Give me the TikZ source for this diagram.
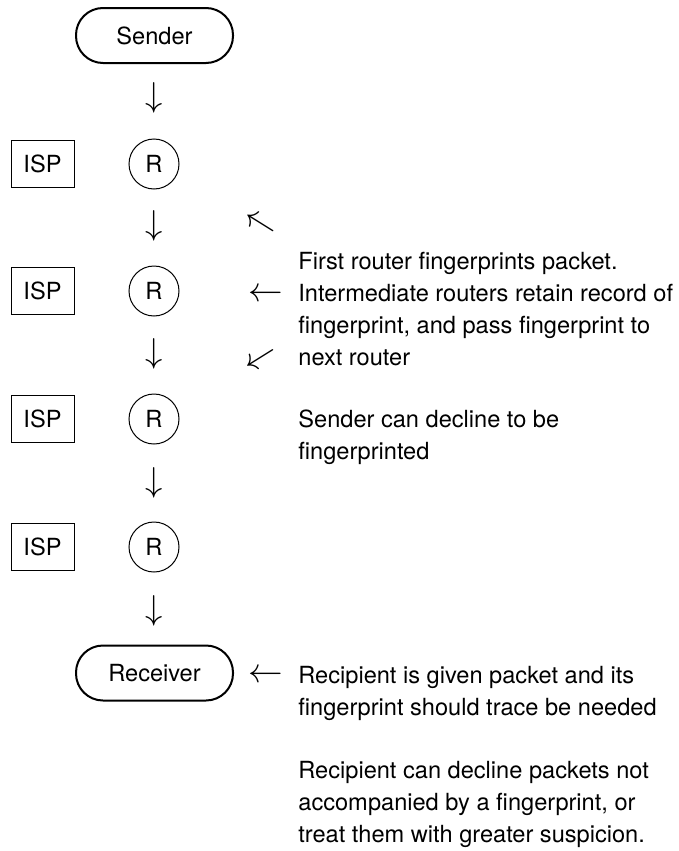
\documentclass[tikz,border=0pt]{standalone}
\usepackage{fontspec}
\setmainfont{TeX Gyre Heros}

\begin{document}
\begin{tikzpicture}[x=0.5pt,y=-0.5pt,
  font=\fontsize{11.8}{16}\selectfont,
  endpoint/.style={draw, rectangle, rounded corners=13.5pt, line width=1pt,
    minimum width=78.5pt, minimum height=27.5pt},
  ispbox/.style={draw, rectangle, line width=0.5pt, minimum width=31.5pt, minimum height=23.5pt},
  router/.style={draw, circle, line width=0.5pt, minimum size=25pt, inner sep=0pt},
  glyph/.style={font=\fontsize{16}{18}\selectfont, inner sep=0pt},
  slant/.style={font=\fontsize{17.28}{19}\selectfont, inner sep=0pt},
  note/.style={anchor=base west, align=left, inner sep=0pt}]
\useasboundingbox (0,0) rectangle (679,851);

\node[endpoint] (sender) at (154.5,35.5) {Sender};
\node[glyph] (d1) at (154,98) {$\downarrow$};

\node[ispbox] (isp1) at (42.5,164) {ISP};
\node[router] (r1) at (154,164) {R};
\node[glyph] (d2) at (154,226) {$\downarrow$};

\node[ispbox] (isp2) at (42.5,291) {ISP};
\node[router] (r2) at (154,291) {R};
\node[glyph] (d3) at (154,354) {$\downarrow$};

\node[ispbox] (isp3) at (42.5,419) {ISP};
\node[router] (r3) at (154,419) {R};
\node[glyph] (d4) at (154,483) {$\downarrow$};

\node[ispbox] (isp4) at (42.5,547) {ISP};
\node[router] (r4) at (154,547) {R};
\node[glyph] (d5) at (154,611) {$\downarrow$};

\node[endpoint] (receiver) at (154.5,673) {Receiver};

% remarks on the right
\node[slant, rotate=-32] (up) at (260,225) {$\leftarrow$};
\node[glyph] (left) at (266,295) {$\leftarrow$};
\node[slant, rotate=32] (down) at (262,360) {$\leftarrow$};
\node[note] (routers) at (298,365) {First router fingerprints packet.\\
Intermediate routers retain record of\\
fingerprint, and pass fingerprint to\\
next router};
\node[note] (decline) at (298,459) {Sender can decline to be\\
fingerprinted};

\node[glyph] (back) at (266,676) {$\leftarrow$};
\node[note] (given) at (298,715) {Recipient is given packet and its\\
fingerprint should trace be needed};
\node[note] (refuse) at (298,842) {Recipient can decline packets not\\
accompanied by a fingerprint, or\\
treat them with greater suspicion.};
\end{tikzpicture}
\end{document}
